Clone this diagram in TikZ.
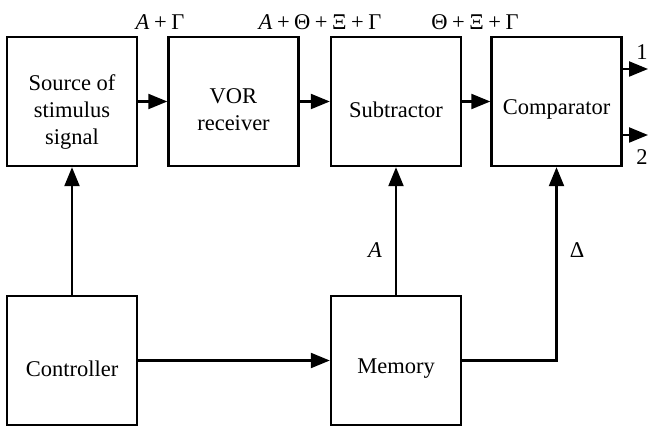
\documentclass[tikz,border=0pt]{standalone}
\usepackage{fontspec}
\setmainfont{Liberation Serif}
\usetikzlibrary{arrows.meta}
\newcommand{\pl}{\hspace{.2em}+\hspace{.2em}}
\begin{document}
\begin{tikzpicture}[x=1pt,y=-1pt,
  blk/.style={draw,line width=2.4pt,minimum width=130pt,minimum height=129pt,inner sep=0pt},
  txt/.style={align=center,inner sep=0pt,yshift=-8pt,font=\fontsize{22.5}{27}\selectfont},
  conn/.style={line width=2.2pt,-{Triangle[length=19pt,width=15pt]}},
  lbl/.style={inner sep=0pt,font=\fontsize{22.5}{26}\selectfont}]
\useasboundingbox (0,0) rectangle (648,427);
\node[blk,label={[txt,yshift=-3pt]center:Source of\\stimulus\\signal}] (src) at (72,101.5) {};
\node[blk,label={[txt]center:VOR\\receiver}] (vor) at (233.5,101.5) {};
\node[blk,label={[txt]center:Subtractor}] (sub) at (396,101.5) {};
\node[blk,label={[txt]center:Comparator}] (cmp) at (556.5,101.5) {};
\node[blk,label={[txt]center:Controller}] (ctl) at (72,360.5) {};
\node[blk,label={[txt]center:Memory}] (mem) at (396,360.5) {};
\coordinate (o1) at (648,69);
\coordinate (o2) at (648,135);
\draw[conn] (src) -- (vor);
\draw[conn] (vor) -- (sub);
\draw[conn] (sub) -- (cmp);
\draw[conn] (cmp.east |- o1) -- (o1);
\draw[conn] (cmp.east |- o2) -- (o2);
\draw[conn] (ctl) -- (src);
\draw[conn] (ctl) -- (mem);
\draw[conn] (mem) -- (sub);
\draw[conn] (mem.east) -| (cmp.south);
\node[lbl] (l1) at (160,22) {\textit{A}\pl Γ};
\node[lbl] (l2) at (320,22) {\textit{A}\pl Θ\pl Ξ\pl Γ};
\node[lbl] (l3) at (475,22) {Θ\pl Ξ\pl Γ};
\node[lbl] (la) at (375,250) {\textit{A}};
\node[lbl] (ld) at (577,250) {Δ};
\node[lbl] (n1) at (642,52) {1};
\node[lbl] (n2) at (642,157) {2};
\end{tikzpicture}
\end{document}
